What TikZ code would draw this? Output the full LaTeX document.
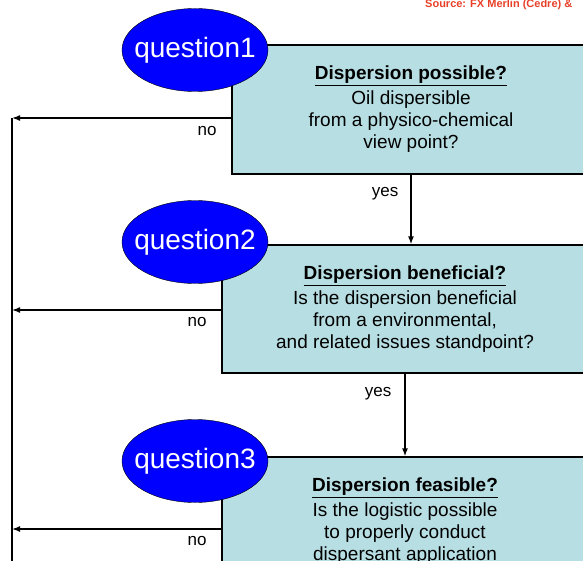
\documentclass[tikz,border=0pt]{standalone}
\usepackage{fontspec}
\setmainfont{Liberation Sans}
\usetikzlibrary{shapes.geometric, arrows.meta, positioning}
\definecolor{qblue}{RGB}{0,0,255}
\definecolor{boxteal}{RGB}{183,222,227}
\definecolor{srcred}{RGB}{232,64,40}
\tikzstyle{question} = [ellipse, minimum width=146pt, minimum height=83pt, inner xsep=-9.5pt, inner ysep=0pt, draw=black, fill=qblue, text=white, font=\fontsize{28}{30}\selectfont]
\tikzstyle{check} = [rectangle, minimum width=366pt, minimum height=128pt, align=center, draw=black, line width=1.3pt, fill=boxteal, font=\fontsize{19}{22}\selectfont]
\tikzstyle{answer} = [inner sep=0pt, font=\fontsize{17}{19}\selectfont]
\tikzstyle{flow} = [line width=1.5pt, -{Latex[length=8pt,width=6pt]}]
\tikzstyle{rail} = [line width=1.5pt]

\begin{document}
\begin{tikzpicture}[x=1pt, y=-1pt]
\useasboundingbox (0,0) rectangle (583,561);

\node (src) [anchor=base west, inner sep=0pt, text=srcred, font=\bfseries\fontsize{11}{12}\selectfont] at (425,8) {Source: FX Merlin (Cedre) \&};

% question 1
\node (box1) [check, minimum width=358pt, minimum height=129pt] at (411,109.5) {\underline{\textbf{Dispersion possible?}}\\[3pt] Oil dispersible\\ from a physico-chemical\\ view point?};
\node (q1) [question] at (195,50) {question1};

% question 2
\node (box2) [check] at (405,309) {\underline{\textbf{Dispersion beneficial?}}\\[3pt] Is the dispersion beneficial\\ from a environmental,\\ and related issues standpoint?};
\node (q2) [question] at (195,242) {question2};

% question 3
\node (box3) [check] at (405,521) {\underline{\textbf{Dispersion feasible?}}\\[3pt] Is the logistic possible\\ to properly conduct\\ dispersant application};
\node (q3) [question] at (195,461) {question3};

% yes
\draw[flow] (box1.south) -- node[answer, pos=0.27, left=12pt] {yes} (box1.south |- box2.north);
\draw[flow] (box2.south) -- node[answer, pos=0.24, left=13pt] {yes} (box2.south |- box3.north);

% no
\coordinate (no1) at (12,118);
\coordinate (no2) at (12,310);
\coordinate (no3) at (12,529);
\coordinate (railend) at (12,575);
\draw[rail] (no1) -- (railend);
\draw[flow] (no1 -| box1.west) -- node[answer, pos=0, anchor=north east, xshift=-14pt, yshift=-8pt] {no} (no1);
\draw[flow] (no2 -| box2.west) -- node[answer, pos=0, anchor=north east, xshift=-14pt, yshift=-7pt] {no} (no2);
\draw[flow] (no3 -| box3.west) -- node[answer, pos=0, anchor=north east, xshift=-14pt, yshift=-7pt] {no} (no3);

\end{tikzpicture}
\end{document}
